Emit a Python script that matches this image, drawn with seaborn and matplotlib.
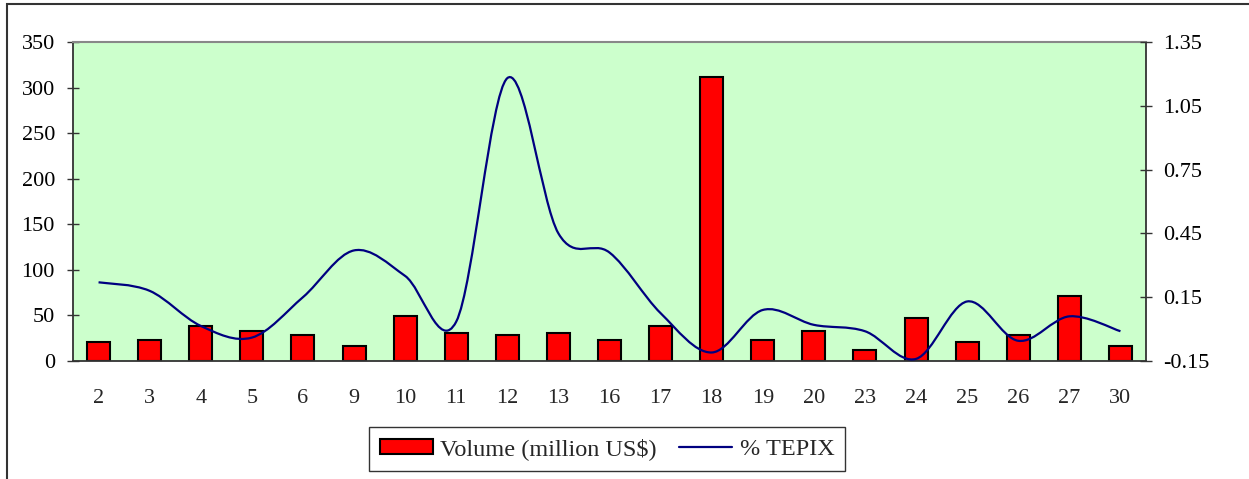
import numpy as np
import pandas as pd
import matplotlib
matplotlib.use('Agg')
import matplotlib.pyplot as plt
import seaborn as sns
from matplotlib.path import Path
from matplotlib.patches import PathPatch, Rectangle, Patch
from matplotlib.lines import Line2D

# %% data
days = ['2', '3', '4', '5', '6', '9', '10', '11', '12', '13', '16',
        '17', '18', '19', '20', '23', '24', '25', '26', '27', '30']
volume = [21, 23, 38, 33, 28.5, 16.5, 49.5, 31, 28.5, 31, 23.5,
          38, 312, 23.5, 33, 12, 47, 21, 28.5, 71, 16.5]
tepix = [0.22, 0.18, 0.015, -0.04, 0.15, 0.37, 0.25, 0.035, 1.18, 0.45, 0.36,
         0.075, -0.11, 0.09, 0.02, -0.01, -0.14, 0.13, -0.055, 0.06, -0.01]

df = pd.DataFrame({'day': days, 'volume': volume, 'tepix': tepix})

# %%
sns.set_style('white')
plt.rcParams['font.family'] = ['Liberation Serif', 'DejaVu Serif']

fig = plt.figure(figsize=(12.49, 4.79), dpi=100)
ax = fig.add_axes([73 / 1249, 1 - 361 / 479, (1146 - 73) / 1249, (361 - 42) / 479])
ax.set_facecolor('#CCFFCC')

sns.barplot(data=df, x='day', y='volume', order=days, color='#FF0000',
            edgecolor='black', linewidth=1.5, width=0.45, saturation=1, ax=ax)

ax.set_xlim(-0.5, len(days) - 0.5)
ax.set_ylim(0, 350)
ax.set_yticks(np.arange(0, 351, 50))
ax.set_xlabel('')
ax.set_ylabel('')
ax.tick_params(axis='y', direction='inout', length=8, width=1, colors='#333333',
               labelcolor='black', labelsize=16, pad=9)
ax.set_xticks(np.arange(-0.5, len(days), 1), minor=True)
ax.tick_params(axis='x', which='major', length=0, labelsize=16, pad=20)
ax.tick_params(axis='x', which='minor', direction='inout', length=12, width=1, colors='#555555')

for side in ['left', 'bottom', 'right']:
    ax.spines[side].set_color('#333333')
    ax.spines[side].set_linewidth(1.3)
ax.spines['top'].set_color('#888888')
ax.spines['top'].set_linewidth(1.5)

# %% right axis with the smoothed TEPIX line (bezier through the points)
ax2 = ax.twinx()
ax2.set_ylim(-0.15, 1.35)
ax2.set_yticks(np.arange(-0.15, 1.36, 0.3))
ax2.set_yticklabels([f'{v:.2f}' for v in np.arange(-0.15, 1.36, 0.3)])
ax2.tick_params(axis='y', direction='inout', length=8, width=1, colors='#333333',
                labelcolor='black', labelsize=16, pad=8)
for side in ['left', 'bottom', 'right', 'top']:
    ax2.spines[side].set_visible(False)

pts = np.column_stack([np.arange(len(days)), tepix])
verts = [pts[0]]
codes = [Path.MOVETO]
for i in range(len(pts) - 1):
    p0 = pts[i - 1] if i > 0 else pts[i]
    p1, p2 = pts[i], pts[i + 1]
    p3 = pts[i + 2] if i + 2 < len(pts) else pts[i + 1]
    verts += [p1 + (p2 - p0) / 6, p2 - (p3 - p1) / 6, p2]
    codes += [Path.CURVE4] * 3
ax2.add_patch(PathPatch(Path(verts, codes), fill=False, edgecolor='#000080', linewidth=1.6))

# %% legend
handles = [Patch(facecolor='#FF0000', edgecolor='black', linewidth=1.5),
           Line2D([], [], color='#000080', linewidth=1.6)]
leg = fig.legend(handles, ['Volume (million US$)', '% TEPIX'], ncol=2,
                 loc='center', bbox_to_anchor=(607 / 1249, 1 - 449 / 479),
                 fontsize=17.5, frameon=True, fancybox=False, borderpad=0.45,
                 handlelength=2.2, handleheight=0.6, handletextpad=0.3,
                 columnspacing=0.9, borderaxespad=0)
leg.get_frame().set_edgecolor('black')
leg.get_frame().set_linewidth(1.0)

# outer chart border (cut off at right and bottom)
fig.patches.append(Rectangle((7 / 1249, -0.5), 1.5, 1.5 - 4 / 479, transform=fig.transFigure,
                             fill=False, edgecolor='#333333', linewidth=1.5))

fig.savefig('out.png', dpi=100)
